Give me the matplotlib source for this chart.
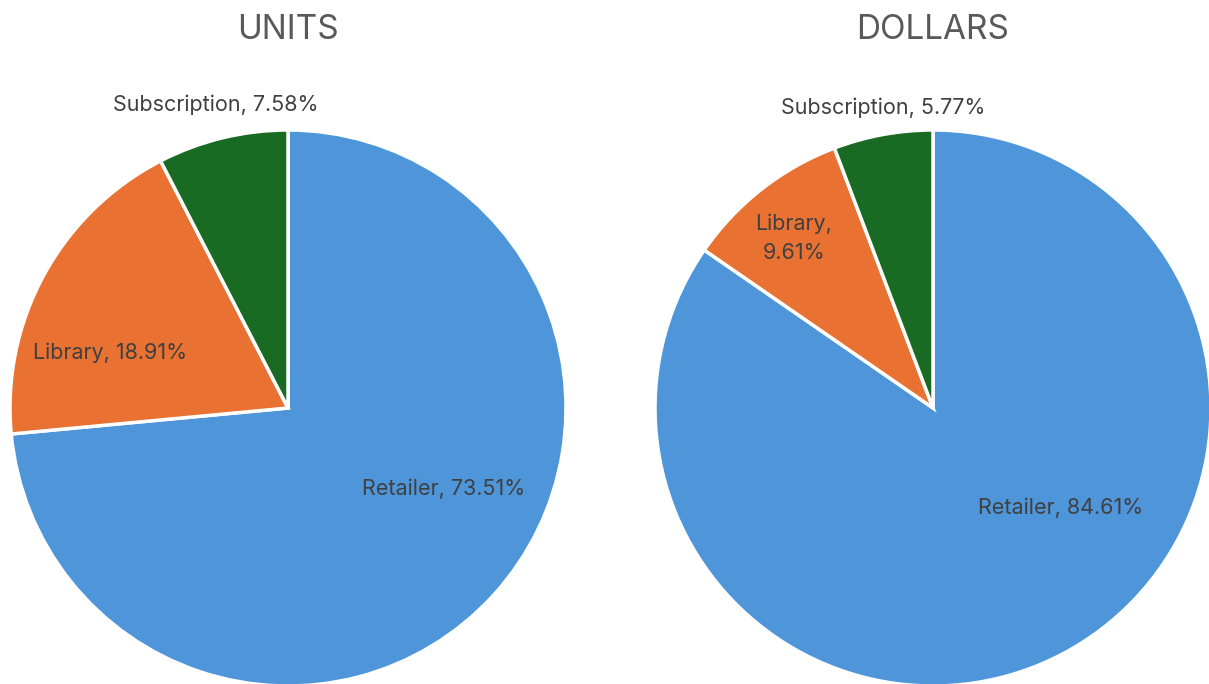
import matplotlib.pyplot as plt

plt.rcParams["font.family"] = ["Inter", "DejaVu Sans"]

CATEGORIES = ["Retailer", "Library", "Subscription"]
UNITS_PCT = [73.51, 18.91, 7.58]
DOLLARS_PCT = [84.61, 9.61, 5.77]

COLORS = ["#4E95D9", "#E97132", "#196B24"]
TITLE_COL = "#595959"
LABEL_COL = "#404040"

# label spots in pie radius units (Excel "best fit" placement)
UNITS_LABEL_POS = [(0.56, -0.29), (-0.64, 0.20), (-0.26, 1.09)]
DOLLARS_LABEL_POS = [(0.46, -0.36), (-0.50, 0.61), (-0.18, 1.08)]

W, H = 1209, 684
R = 278


def draw_pie(ax, values, label_pos, title, title_x):
    ax.pie(
        values,
        colors=COLORS,
        startangle=90,
        counterclock=False,
        radius=1.0,
        wedgeprops=dict(edgecolor="white", linewidth=2.5),
    )
    ax.set_xlim(-1, 1)
    ax.set_ylim(-1, 1)
    ax.set_aspect("equal")
    ax.axis("off")
    for cat, val, (x, y) in zip(CATEGORIES, values, label_pos):
        txt = f"{cat}, {val:.2f}%"
        if cat == "Library" and val < 10:
            txt = f"{cat},\n{val:.2f}%"
        ax.text(x, y, txt, ha="center", va="center", fontsize=15.5,
                color=LABEL_COL, linespacing=1.6, clip_on=False)
    ax.figure.text(title_x / W, 1 - 30 / H, title, ha="center", va="center",
                   fontsize=24, color=TITLE_COL)


fig = plt.figure(figsize=(W / 100, H / 100), dpi=100)
cy = H - 408
ax1 = fig.add_axes([(288 - R) / W, (cy - R) / H, 2 * R / W, 2 * R / H])
ax2 = fig.add_axes([(933 - R) / W, (cy - R) / H, 2 * R / W, 2 * R / H])

draw_pie(ax1, UNITS_PCT, UNITS_LABEL_POS, "UNITS", 288)
draw_pie(ax2, DOLLARS_PCT, DOLLARS_LABEL_POS, "DOLLARS", 933)

fig.savefig("out.png", dpi=100)
